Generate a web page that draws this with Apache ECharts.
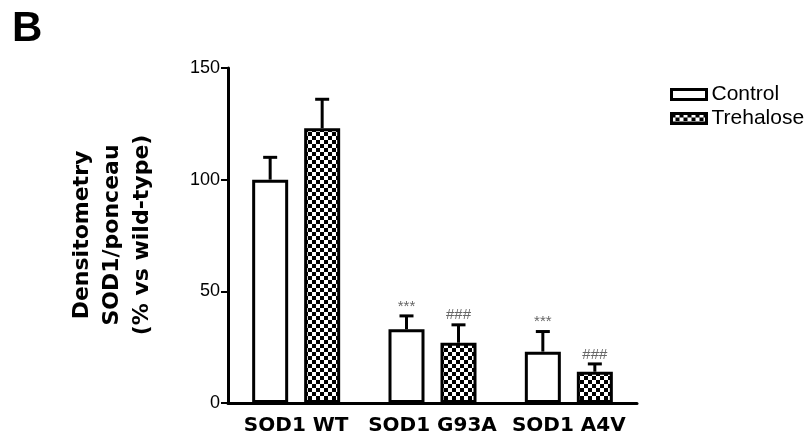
<!DOCTYPE html>
<html>
<head>
<meta charset="utf-8">
<script src="https://cdn.jsdelivr.net/npm/echarts@6/dist/echarts.min.js"></script>
<style>html,body{margin:0;padding:0;background:#fff}#c{width:809px;height:445px}</style>
</head>
<body>
<div id="c"></div>
<script>
const categories = ['SOD1 WT', 'SOD1 G93A', 'SOD1 A4V'];
const controlValues = [100, 33, 23];
const controlErrors = [10, 6, 9];
const controlMarks = ['', '***', '***'];
const trehaloseValues = [123, 27, 14];
const trehaloseErrors = [13, 8, 3.5];
const trehaloseMarks = ['', '###', '###'];
const yTicks = [0, 50, 100, 150];

const BAR_W = 36, BAR_GAP = 16;
const OFFSET = (BAR_W + BAR_GAP) / 2;

function checker() {
  const c = document.createElement('canvas');
  c.width = 8; c.height = 8;
  const g = c.getContext('2d');
  g.fillStyle = '#fff'; g.fillRect(0, 0, 8, 8);
  g.fillStyle = '#000'; g.fillRect(0, 0, 4, 4); g.fillRect(4, 4, 4, 4);
  return c;
}
const pattern = { image: checker(), repeat: 'repeat' };

function errSeries(vals, errs, marks, off) {
  return {
    type: 'custom',
    z: 5,
    clip: false,
    silent: true,
    data: vals.map((v, i) => [i, v, errs[i]]),
    renderItem: function (params, api) {
      const i = api.value(0);
      const v = api.value(1);
      const e = api.value(2);
      const mark = marks[params.dataIndex];
      const p0 = api.coord([i, v]);
      const p1 = api.coord([i, v + e]);
      const x = p0[0] + off;
      const children = [
        { type: 'line', shape: { x1: x, y1: p0[1], x2: x, y2: p1[1] }, style: { stroke: '#000', lineWidth: 3 } },
        { type: 'line', shape: { x1: x - 7, y1: p1[1], x2: x + 7, y2: p1[1] }, style: { stroke: '#000', lineWidth: 3 } }
      ];
      if (mark) {
        children.push({ type: 'text', x: x, y: p1[1] - 2, style: { text: mark, fill: '#666', font: '15px "Liberation Sans"', align: 'center', verticalAlign: 'bottom' } });
      }
      return { type: 'group', children: children };
    }
  };
}

const chart = echarts.init(document.getElementById('c'), null, { renderer: 'canvas' });
chart.setOption({
  backgroundColor: '#fff',
  animation: false,
  grid: { left: 228, top: 68, right: 172, bottom: 42 },
  legend: {
    data: ['Control', 'Trehalose'],
    orient: 'vertical',
    left: 665, top: 78,
    icon: 'rect',
    itemWidth: 35, itemHeight: 10,
    itemGap: 1,
    itemTextGap: 6,
    itemStyle: { borderColor: '#000', borderWidth: 3 },
    textStyle: { fontFamily: 'Liberation Sans', fontSize: 21, color: '#000', lineHeight: 23 }
  },
  graphic: [
    { type: 'text', left: 12, top: 8, style: { text: 'B', font: 'bold 42px "Liberation Sans"', fill: '#000' } },
    { type: 'text', x: 112, y: 235, rotation: Math.PI / 2,
      style: { text: 'Densitometry\nSOD1/ponceau\n(% vs wild-type)', font: 'bold 22px "DejaVu Sans"', fill: '#000', align: 'center', verticalAlign: 'middle', lineHeight: 30 } }
  ],
  xAxis: {
    type: 'category',
    data: categories,
    axisLine: { lineStyle: { color: '#000', width: 3 } },
    axisTick: { alignWithLabel: true, length: 10, lineStyle: { color: '#000', width: 2 } },
    axisLabel: { interval: 0, hideOverlap: false, color: '#000', fontFamily: 'DejaVu Sans', fontWeight: 'bold', fontSize: 20, margin: 13 }
  },
  yAxis: {
    type: 'value',
    min: yTicks[0], max: yTicks[yTicks.length - 1], interval: 50,
    splitLine: { show: false },
    axisLine: { show: true, lineStyle: { color: '#000', width: 3 } },
    axisTick: { show: true, length: 7, lineStyle: { color: '#000', width: 2 } },
    axisLabel: { color: '#000', fontFamily: 'Liberation Sans', fontSize: 18, margin: 8 }
  },
  series: [
    { name: 'Control', type: 'bar', data: controlValues, barWidth: BAR_W, barGap: (BAR_GAP / BAR_W * 100) + '%',
      itemStyle: { color: '#fff', borderColor: '#000', borderWidth: 3 } },
    { name: 'Trehalose', type: 'bar', data: trehaloseValues, barWidth: BAR_W,
      itemStyle: { color: pattern, borderColor: '#000', borderWidth: 3 } },
    errSeries(controlValues, controlErrors, controlMarks, -OFFSET),
    errSeries(trehaloseValues, trehaloseErrors, trehaloseMarks, OFFSET)
  ]
});
</script>
</body>
</html>
